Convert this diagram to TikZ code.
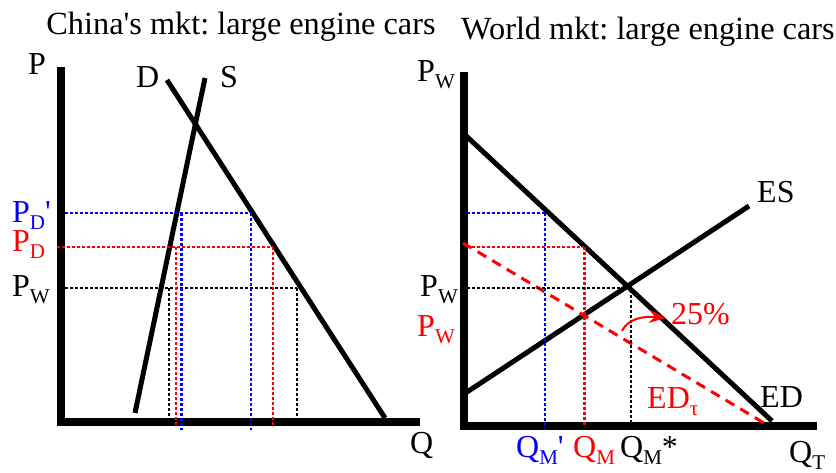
\documentclass[tikz,border=0pt]{standalone}
\usepackage{fontspec}
\setmainfont{Liberation Serif}
\usetikzlibrary{arrows.meta}
\definecolor{myblue}{RGB}{0,0,255}
\definecolor{myred}{RGB}{255,0,0}
\newcommand{\lsub}[1]{\raisebox{-7pt}{\fontsize{21}{21}\selectfont #1}}
\newcommand{\sq}{\textquotesingle}
\frenchspacing
\tikzset{
  axis/.style={line width=7.5pt},
  curve/.style={line width=5pt},
  dotl/.style={line width=2pt, dash pattern=on 3pt off 2pt},
  lbl/.style={font=\fontsize{32}{34}\selectfont, inner sep=0pt, anchor=base west},
  ttl/.style={font=\fontsize{32.3}{34}\selectfont, inner sep=0pt},
}
\begin{document}
\begin{tikzpicture}[x=1pt,y=-1pt]
\useasboundingbox (0,0) rectangle (836,473);
% titles
\node[ttl, anchor=base] (t1) at (241,35) {China\sq s mkt: large engine cars};
\node[ttl, anchor=base west] (t2) at (461,40) {World mkt: large engine cars};
% ---------- left panel ----------
\coordinate (LY) at (61,67);
\coordinate (LYb) at (61,426);
\coordinate (LX0) at (57,422);
\coordinate (LX) at (420,422);
\draw[axis] (LY) -- (LYb);
\draw[axis] (LX0) -- (LX);
\coordinate (Dt) at (167,80);
\coordinate (Db) at (385,418);
\coordinate (St) at (205,78);
\coordinate (Sb) at (135,413);
\draw[curve] (Dt) -- (Db);
\draw[curve] (St) -- (Sb);
% dotted guides
\coordinate (bh1) at (65,213); \coordinate (bh2) at (251,213);
\coordinate (rh1) at (57,247); \coordinate (rh2) at (273,247);
\coordinate (kh1) at (65,288); \coordinate (kh2) at (297,288);
\draw[dotl, myblue, line width=2.5pt] (bh1) -- (bh2);
\draw[dotl, myred, line width=2.5pt] (rh1) -- (rh2);
\draw[dotl] (kh1) -- (kh2);
\coordinate (kv1t) at (169,288); \coordinate (kv1b) at (169,427);
\coordinate (rv1t) at (176,247); \coordinate (rv1b) at (176,427);
\coordinate (bv1t) at (181,213); \coordinate (bv1b) at (181,430);
\coordinate (bv2t) at (251,213); \coordinate (bv2b) at (251,430);
\coordinate (rv2t) at (273,247); \coordinate (rv2b) at (273,427);
\coordinate (kv2t) at (297,288); \coordinate (kv2b) at (297,427);
\draw[dotl, line width=2.5pt] (kv1t) -- (kv1b);
\draw[dotl, myred, line width=2.5pt] (rv1t) -- (rv1b);
\draw[dotl, myblue, line width=3pt] (bv1t) -- (bv1b);
\draw[dotl, myblue] (bv2t) -- (bv2b);
\draw[dotl, myred] (rv2t) -- (rv2b);
\draw[dotl] (kv2t) -- (kv2b);
% labels
\node[lbl] (P) at (28,75) {P};
\node[lbl] (D) at (136,88) {D};
\node[lbl] (S) at (220,88) {S};
\node[lbl, text=myblue] (PDp) at (12,223) {P\lsub{D}\sq};
\node[lbl, text=myred] (PD) at (12,252) {P\lsub{D}};
\node[lbl] (PW) at (12,297) {P\lsub{W}};
\node[lbl] (Q) at (410,453) {Q};
% ---------- right panel ----------
\coordinate (RY) at (464,72);
\coordinate (RYb) at (464,430);
\coordinate (RX0) at (460,426);
\coordinate (RX) at (817,426);
\draw[axis] (RY) -- (RYb);
\draw[axis] (RX0) -- (RX);
\coordinate (EDt) at (463,133);
\coordinate (EDb) at (772,421);
\coordinate (ESb) at (464,394);
\coordinate (ESt) at (749,206);
\coordinate (EDtt) at (463,243);
\coordinate (EDtb) at (764,423);
\draw[curve] (EDt) -- (EDb);
\draw[curve] (ESb) -- (ESt);
\draw[myred, line width=3pt, dash pattern=on 10pt off 7pt] (EDtt) -- (EDtb);
% dotted guides
\coordinate (rb1) at (467,213); \coordinate (rb2) at (545,213); \coordinate (rb3) at (545,430);
\coordinate (rr1) at (467,247); \coordinate (rr2) at (584,247); \coordinate (rr3) at (584,427);
\coordinate (rk1) at (467,288); \coordinate (rk2) at (630,288);
\coordinate (rk2b) at (631,290); \coordinate (rk3) at (631,426);
\draw[dotl, myblue, line width=2.5pt] (rb1) -- (rb2);
\draw[dotl, myblue] (rb2) -- (rb3);
\draw[dotl, myred, line width=2.5pt] (rr1) -- (rr2);
\draw[dotl, myred, line width=3pt] (rr2) -- (rr3);
\draw[dotl] (rk1) -- (rk2);
\draw[dotl] (rk2b) -- (rk3);
% arrow
\coordinate (ar1) at (622,331);
\coordinate (ar2) at (666,318);
\draw[myred, line width=2pt, -{Stealth[length=17pt,width=13pt,inset=6pt]}] (ar1) .. controls (628,318) and (645,316) .. (ar2);
% labels
\node[lbl] (PWt) at (417,82) {P\lsub{W}};
\node[lbl] (PWr) at (420,297) {P\lsub{W}};
\node[lbl, text=myred] (PWred) at (417,337) {P\lsub{W}};
\node[lbl, text=myred] (pct) at (671,325) {25\%};
\node[lbl, text=myred] (EDtau) at (647,408) {ED\lsub{τ}};
\node[lbl] (ED) at (760,407) {ED};
\node[lbl] (ES) at (757,203) {ES};
\node[lbl, text=myblue] (QMp) at (516,457) {Q\lsub{M}\sq};
\node[lbl, text=myred] (QM) at (573,457) {Q\lsub{M}};
\node[lbl] (QMs) at (620,457) {Q\lsub{M}*};
\node[lbl] (QT) at (789,462) {Q\lsub{T}};
\end{tikzpicture}
\end{document}
